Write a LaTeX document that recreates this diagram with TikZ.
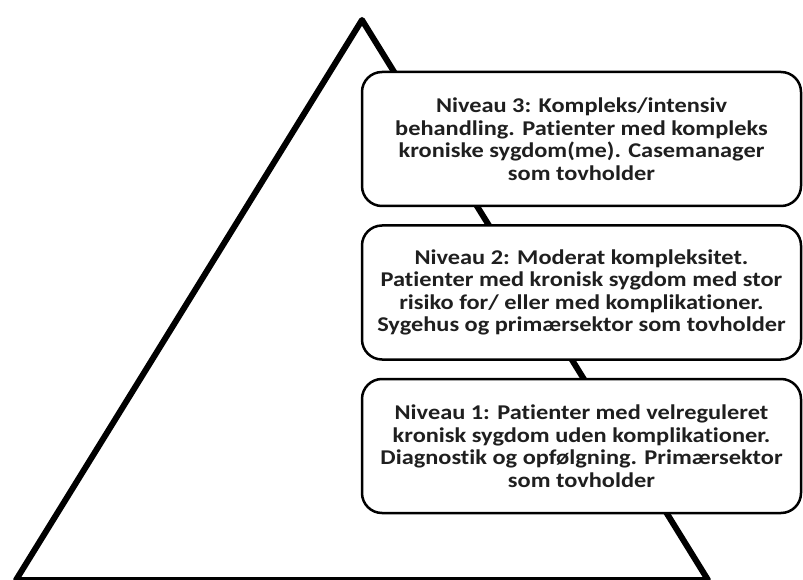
\documentclass[tikz,border=0pt]{standalone}
\usepackage{fontspec}
\setmainfont{Carlito}[Ligatures=NoCommon,FakeStretch=1.16]
\usetikzlibrary{positioning}

\begin{document}
\begin{tikzpicture}[x=1pt,y=-1pt,
  font=\fontsize{21}{22.5}\selectfont\bfseries,node distance=17pt,
  level/.style={rounded corners=20pt,draw=black,fill=white,align=center,
                minimum height=134pt,minimum width=439pt,line width=2.5pt,
                inner sep=0pt,text=black!88},
  edge/.style={line width=6pt,line join=round}]
  \useasboundingbox (0,0) rectangle (803,580);
  % pyramid
  \coordinate (top) at (362,20);
  \coordinate (bl) at (16,580);
  \coordinate (br) at (708,580);
  \draw[edge] (bl) -- (top) -- (br) -- cycle;
  % levels, top down
  \node[level] (n3) at (581.5,139)
    {Niveau 3: Kompleks/intensiv\\behandling. Patienter med kompleks\\kroniske sygdom(me). Casemanager\\som tovholder};
  \node[level,below=of n3] (n2)
    {Niveau 2: Moderat kompleksitet.\\Patienter med kronisk sygdom med stor\\risiko for/ eller med komplikationer.\\Sygehus og primærsektor som tovholder};
  \node[level,below=of n2] (n1)
    {Niveau 1: Patienter med velreguleret\\kronisk sygdom uden komplikationer.\\Diagnostik og opfølgning. Primærsektor\\som tovholder};
\end{tikzpicture}
\end{document}
